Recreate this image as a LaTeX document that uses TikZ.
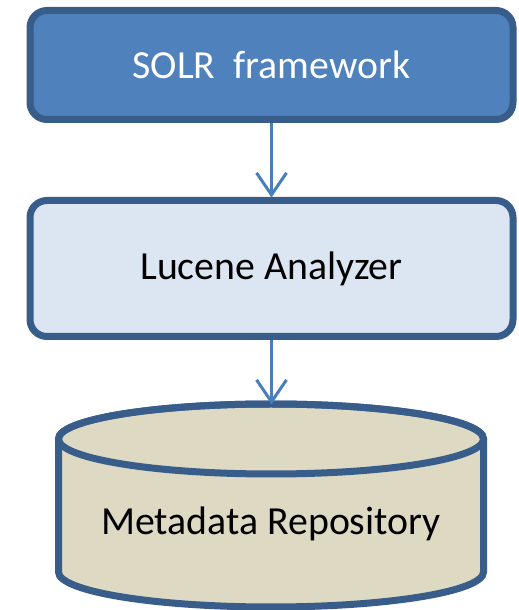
\documentclass[tikz,border=0pt]{standalone}
\usepackage{fontspec}
\setmainfont{Carlito}
\usetikzlibrary{arrows.meta}
\definecolor{boxline}{HTML}{385D8A}
\definecolor{darkfill}{HTML}{4F81BD}
\definecolor{lightfill}{HTML}{DCE6F2}
\definecolor{cylfill}{HTML}{DDD9C3}
\definecolor{arrowcol}{HTML}{4A7EBB}
\tikzset{
  bigtext/.style={font=\fontsize{39.8}{46}\selectfont},
  procbox/.style={draw=boxline, line width=7pt, rounded corners=17pt, minimum width=483pt, outer sep=0pt, inner sep=0pt, bigtext},
  flow/.style={draw=arrowcol, line width=3pt, -{Straight Barb[length=22pt,width=30pt,line width=3pt]}}
}
\begin{document}
\begin{tikzpicture}[x=1pt,y=1pt]
\useasboundingbox (0,0) rectangle (519,610);
\node[procbox, fill=darkfill, text=white, minimum height=109pt] (solr) at (271.5,545) {SOLR\ \ framework};
\node[procbox, fill=lightfill, text=black, minimum height=136pt] (lucene) at (271.5,341.5) {Lucene Analyzer};
% cylinder
\filldraw[draw=boxline, fill=cylfill, line width=7pt]
  (58.5,171) -- (58.5,38) arc[start angle=180, end angle=360, x radius=212.5, y radius=35]
  -- (483.5,171) arc[start angle=0, end angle=180, x radius=212.5, y radius=35] -- cycle;
\draw[draw=boxline, line width=7pt] (271,171) ellipse[x radius=212.5, y radius=35];
\coordinate (cyltop) at (271.5,206.5);
\node[bigtext, text=black] (meta) at (271,86) {Metadata Repository};
\draw[flow, shorten >=3pt, shorten <=3.5pt] (solr.south) -- (lucene.north);
\draw[flow, shorten >=-1pt, shorten <=3.5pt] (lucene.south) -- (cyltop);
\end{tikzpicture}
\end{document}
